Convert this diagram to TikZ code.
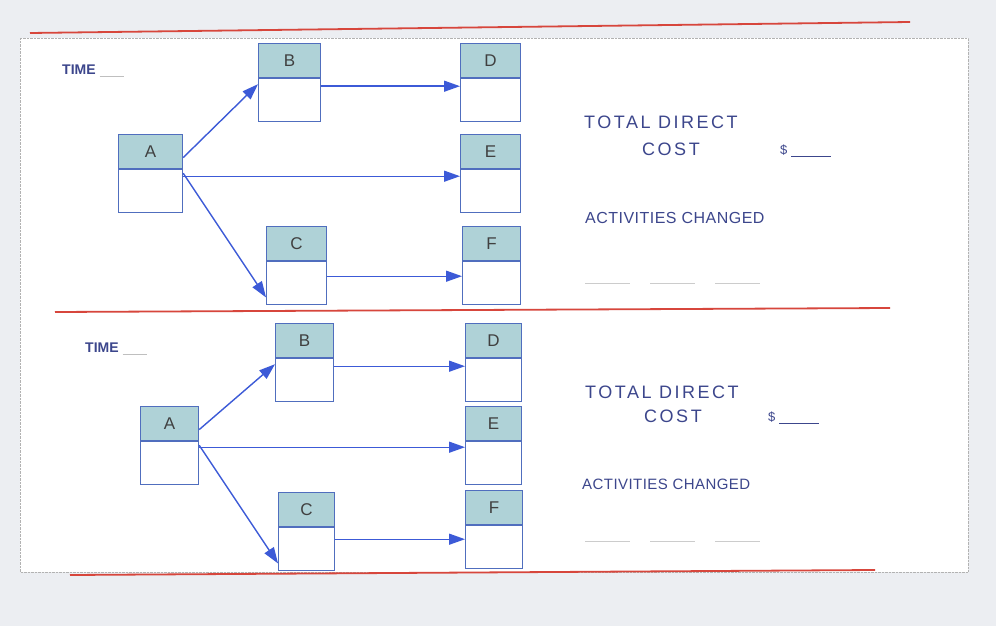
\documentclass[tikz,border=0pt]{standalone}
\usepackage{fontspec}
\setmainfont{Liberation Sans}
\usetikzlibrary{arrows.meta}
\definecolor{bx}{RGB}{80,110,190}
\definecolor{hd}{RGB}{175,210,215}
\definecolor{ar}{RGB}{60,90,215}
\definecolor{rl}{RGB}{215,70,60}
\definecolor{tx}{RGB}{60,70,140}
\definecolor{bg}{RGB}{236,238,242}
\tikzset{
  hdr/.style={draw=bx,fill=hd,line width=1.2pt,minimum width=#1,minimum height=34pt,inner sep=0pt,font=\fontsize{17}{17}\selectfont,text=black!75},
  bdy/.style={draw=bx,fill=white,line width=1.2pt,minimum width=#1,minimum height=43pt,inner sep=0pt},
  conn/.style={draw=ar,line width=1.4pt,-{Triangle[length=16pt,width=11pt]}},
  lbl/.style={text=tx,anchor=west,inner sep=0pt},
  big/.style={font=\fontsize{18}{18}\selectfont\addfontfeature{LetterSpace=14}},
  mid/.style={font=\fontsize{16}{16}\selectfont\addfontfeature{LetterSpace=3}},
  redl/.style={draw=rl,line width=1.8pt}
}
\newcommand{\actbox}[5]{% name, x, top y, width, letter
  \node[hdr=#4,anchor=north west] (#1h) at (#2,#3) {#5};
  \node[bdy=#4,anchor=north] (#1b) at (#1h.south) {};
}
\begin{document}
\begin{tikzpicture}[x=1pt,y=-1pt]
\useasboundingbox (0,0) rectangle (996,626);
\fill[bg] (0,0) rectangle (996,626);
\fill[white] (20,38) rectangle (968,572);
\draw[gray!60,densely dotted] (20,38) rectangle (968,572);
\draw[redl] (30,33) -- (910,22);
\draw[redl] (55,312) -- (890,308);
\draw[redl] (70,575) -- (875,570);
% top panel
\actbox{A1}{118}{134}{64}{A}
\actbox{B1}{258}{43}{62}{B}
\actbox{D1}{460}{43}{60}{D}
\actbox{E1}{460}{134}{60}{E}
\actbox{C1}{266}{226}{60}{C}
\actbox{F1}{462}{226}{58}{F}
\draw[conn] ([yshift=-6pt]A1h.east) -- ([yshift=-6pt]B1b.north west);
\draw[conn] ([yshift=-7pt]A1b.north east) -- ([yshift=-7pt]A1b.north east -| E1b.west);
\draw[conn] ([yshift=-4pt]A1b.north east) -- ([yshift=8pt]C1b.south west);
\draw[conn] ([yshift=-8pt]B1b.north east) -- ([yshift=-8pt]B1b.north east -| D1b.west);
\draw[conn] ([yshift=-15pt]C1b.north east) -- ([yshift=-15pt]C1b.north east -| F1b.west);
\node[lbl,font=\bfseries\fontsize{14}{14}\selectfont] (t1) at (62,71) {TIME \textcolor{gray!50}{\underline{\hspace{24pt}}}};
\node[lbl,big] (tc1) at (584,122) {TOTAL DIRECT};
\node[lbl,big] (c1) at (642,149) {COST};
\node[lbl,font=\fontsize{13}{13}\selectfont] (d1) at (780,151) {\$ \underline{\hspace{40pt}}};
\node[lbl,mid] (ac1) at (585,218) {ACTIVITIES CHANGED};
\draw[gray!40] (585,283) -- (630,283) (650,283) -- (695,283) (715,283) -- (760,283);
% bottom panel
\actbox{A2}{140}{406}{58}{A}
\actbox{B2}{275}{323}{58}{B}
\actbox{D2}{465}{323}{56}{D}
\actbox{E2}{465}{406}{56}{E}
\actbox{C2}{278}{492}{56}{C}
\actbox{F2}{465}{490}{57}{F}
\draw[conn] ([yshift=-6pt]A2h.east) -- ([yshift=-6pt]B2b.north west);
\draw[conn] ([yshift=-6pt]A2b.north east) -- ([yshift=-6pt]A2b.north east -| E2b.west);
\draw[conn] ([yshift=-4pt]A2b.north east) -- ([yshift=8pt]C2b.south west);
\draw[conn] ([yshift=-8pt]B2b.north east) -- ([yshift=-8pt]B2b.north east -| D2b.west);
\draw[conn] ([yshift=-12pt]C2b.north east) -- ([yshift=-12pt]C2b.north east -| F2b.west);
\node[lbl,font=\bfseries\fontsize{14}{14}\selectfont] (t2) at (85,349) {TIME \textcolor{gray!50}{\underline{\hspace{24pt}}}};
\node[lbl,big] (tc2) at (585,392) {TOTAL DIRECT};
\node[lbl,big] (c2) at (644,416) {COST};
\node[lbl,font=\fontsize{13}{13}\selectfont] (d2) at (768,418) {\$ \underline{\hspace{40pt}}};
\node[lbl,mid,font=\fontsize{15}{15}\selectfont\addfontfeature{LetterSpace=3}] (ac2) at (582,484) {ACTIVITIES CHANGED};
\draw[gray!40] (585,541) -- (630,541) (650,541) -- (695,541) (715,541) -- (760,541);
\end{tikzpicture}
\end{document}
